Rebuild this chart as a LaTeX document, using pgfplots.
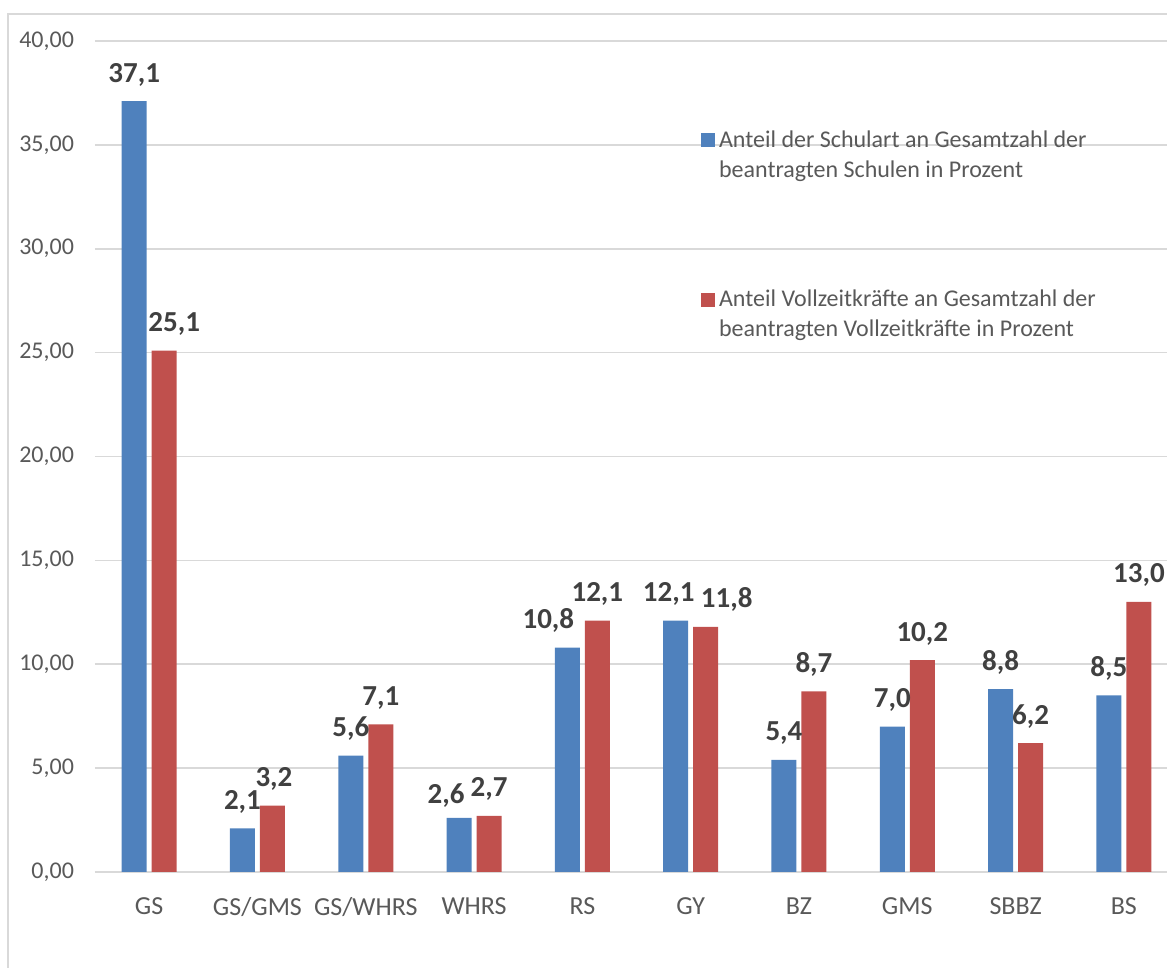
\documentclass[border=0pt]{standalone}
\usepackage{pgfplots}
\pgfplotsset{compat=1.18}
\usepackage{pgfplotstable}
\usepackage{fontspec}
\setmainfont{Carlito}
\definecolor{cblue}{HTML}{4F81BD}
\definecolor{cred}{HTML}{C0504D}
\definecolor{tickc}{HTML}{595959}
\definecolor{lblc}{HTML}{404040}
\definecolor{gridc}{HTML}{D9D9D9}

\pgfplotstableread{
x y dx dy
0 37.1 0 0
1 2.1 0 0
2 5.6 0 0
3 2.6 -6.5 -2.5
4 10.8 -9.5 0
5 12.1 -3.5 0
6 5.4 0 0
7 7.0 0 0
8 8.8 0 0
9 8.5 0 0
}\blueTable
\pgfplotstableread{
x y dx dy
0 25.1 5 0
1 3.2 0.75 0
2 7.1 0 0
3 2.7 0 0
4 12.1 0 0
5 11.8 10.5 0
6 8.7 0 0
7 10.2 0 0
8 6.2 0 0
9 13.0 0 0
}\redTable

\begin{document}
\begin{tikzpicture}
\useasboundingbox (0,0) rectangle (583.5pt,484pt);
\draw[gridc, line width=0.8pt] (4pt,-5pt) -- (4pt,477pt) -- (590pt,477pt);
\begin{axis}[
  at={(47.5pt,48pt)}, anchor=south west,
  scale only axis, width=536pt, height=415.5pt,
  xmin=-0.5, xmax=9.398, ymin=0, ymax=40,
  ybar=2.5pt, bar width=12.5pt,
  xtick={0,...,9},
  xticklabels={GS,GS/GMS,GS/WHRS,WHRS,RS,GY,BZ,GMS,SBBZ,BS},
  ytick={0,5,...,40},
  major tick length=0pt,
  axis line style={draw=none},
  ymajorgrids, grid style={gridc, line width=0.8pt},
  tick label style={text=tickc},
  x tick label style={font=\fontsize{13}{15}\selectfont, yshift=-9.25pt},
  y tick label style={font=\fontsize{12}{14}\selectfont, xshift=-7pt, /pgf/number format/.cd, fixed, fixed zerofill, precision=2, use comma, 1000 sep={}, assume math mode=true},
  clip=false,
  nodes near coords={\pgfmathprintnumber[fixed, fixed zerofill, precision=1, use comma, assume math mode=true]{\pgfplotspointmeta}},
  every node near coord/.append style={font=\bfseries\fontsize{14.5}{17}\selectfont, text=lblc, anchor=base, yshift=9.5pt},
  legend style={draw=none, fill=none, at={(0.565,0.8976)}, anchor=north west, font=\fontsize{12}{15}\selectfont, text=tickc, row sep=51pt, cells={anchor=west, align=left}, inner sep=0pt},
  legend image code/.code={\fill[#1] (0pt,4pt) rectangle (7pt,11pt);},
]
\addplot[fill=cblue, draw=none, visualization depends on={\thisrow{dx}\as\dxb}, visualization depends on={\thisrow{dy}\as\dyb},
  every node near coord/.append style={xshift=\dxb pt, yshift=\dyb pt}] table[x=x, y=y] {\blueTable};
\addlegendentry{Anteil der Schulart an Gesamtzahl der\\beantragten Schulen in Prozent}
\addplot[fill=cred, draw=none, visualization depends on={\thisrow{dx}\as\dxr}, visualization depends on={\thisrow{dy}\as\dyr},
  every node near coord/.append style={xshift=\dxr pt, yshift=\dyr pt}] table[x=x, y=y] {\redTable};
\addlegendentry{Anteil Vollzeitkräfte an Gesamtzahl der\\beantragten Vollzeitkräfte in Prozent}
\end{axis}
\end{tikzpicture}
\end{document}
